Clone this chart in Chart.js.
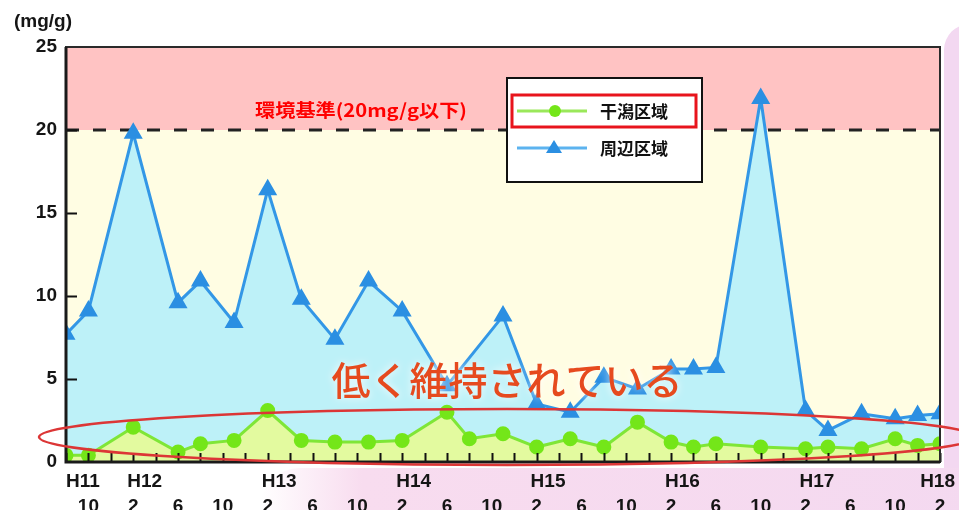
<!DOCTYPE html>
<html lang="ja">
<head>
<meta charset="utf-8">
<title>干潟区域・周辺区域の推移</title>
<script src="https://cdn.jsdelivr.net/npm/chart.js@4/dist/chart.umd.min.js"></script>
<style>
    body { margin: 0; background: #fff; overflow: hidden; }
    .wrap { position: relative; width: 959px; height: 510px; }
    .deco-right { position: absolute; left: 944px; top: 24px; width: 40px; height: 500px; background: #f3d8f1; border-top-left-radius: 26px; }
    .deco-bottom { position: absolute; left: 260px; top: 468px; width: 730px; height: 60px; background: linear-gradient(90deg, rgba(249,220,240,0) 0%, #f8dcef 14%, #f4d9f0 100%); border-top-left-radius: 40px; }
    canvas { position: absolute; left: 0; top: 0; }
</style>
</head>
<body>
<div class="wrap">
    <div class="deco-right"></div>
    <div class="deco-bottom"></div>
    <canvas id="chart" width="959" height="510"></canvas>
</div>
<script>
// 調査時期（和暦.月）と測定値 (mg/g)
const higataDates = ['H11.8', 'H11.10', 'H12.2', 'H12.6', 'H12.8', 'H12.11', 'H13.2', 'H13.5', 'H13.8', 'H13.11', 'H14.2', 'H14.6', 'H14.8', 'H14.11', 'H15.2', 'H15.5', 'H15.8', 'H15.11', 'H16.2', 'H16.4', 'H16.6', 'H16.10', 'H17.2', 'H17.4', 'H17.7', 'H17.10', 'H17.12', 'H18.2'];
const higataValues = [0.4, 0.4, 2.1, 0.6, 1.1, 1.3, 3.1, 1.3, 1.2, 1.2, 1.3, 3.0, 1.4, 1.7, 0.9, 1.4, 0.9, 2.4, 1.2, 0.9, 1.1, 0.9, 0.8, 0.9, 0.8, 1.4, 1.0, 1.1];

const shuhenDates = ['H11.8', 'H11.10', 'H12.2', 'H12.6', 'H12.8', 'H12.11', 'H13.2', 'H13.5', 'H13.8', 'H13.11', 'H14.2', 'H14.6', 'H14.11', 'H15.2', 'H15.5', 'H15.8', 'H15.11', 'H16.2', 'H16.4', 'H16.6', 'H16.10', 'H17.2', 'H17.4', 'H17.7', 'H17.10', 'H17.12', 'H18.2'];
const shuhenValues = [7.7, 9.1, 19.8, 9.6, 10.9, 8.4, 16.4, 9.8, 7.4, 10.9, 9.1, 4.6, 8.8, 3.5, 3.0, 5.1, 4.4, 5.6, 5.6, 5.7, 21.9, 3.1, 1.9, 2.9, 2.6, 2.8, 2.9];

const seriesNames = ['干潟区域', '周辺区域'];
const yearLabels = ['H11', 'H12', 'H13', 'H14', 'H15', 'H16', 'H17', 'H18'];
const labelMonths = [2, 6, 10];
const yTicks = [0, 5, 10, 15, 20, 25];
const standardValue = 20;
const standardLabel = '環境基準(20mg/g以下)';
const unitLabel = '(mg/g)';
const noteText = '低く維持されている';

const startDate = 'H11.8';
const endDate = 'H18.2';

// 'H12.2' -> H11年8月からの月数
function toMonthIndex(s) {
    const parts = s.slice(1).split('.').map(Number);
    return (parts[0] - 11) * 12 + (parts[1] - 8);
}
function monthOf(idx) {
    return ((idx + 7) % 12) + 1;
}
function toPoints(dates, values) {
    return dates.map((d, i) => ({ x: toMonthIndex(d), y: values[i] }));
}

const FONT = '"Liberation Sans", Arial, sans-serif';
const JP = '"Noto Sans CJK JP", sans-serif';

// 背景・基準線・枠・凡例・注記
const decor = {
    id: 'decor',
    beforeDatasetsDraw(chart) {
        const { ctx, chartArea: a, scales: { y } } = chart;
        const yStd = y.getPixelForValue(standardValue);
        ctx.save();
        ctx.fillStyle = '#ffc3c3';
        ctx.fillRect(a.left, a.top, a.right - a.left, yStd - a.top);
        ctx.fillStyle = '#fffde3';
        ctx.fillRect(a.left, yStd, a.right - a.left, a.bottom - yStd);

        ctx.strokeStyle = '#222';
        ctx.lineWidth = 3;
        ctx.setLineDash([13, 14]);
        ctx.beginPath();
        ctx.moveTo(a.left, yStd);
        ctx.lineTo(a.right, yStd);
        ctx.stroke();
        ctx.setLineDash([]);

        ctx.fillStyle = '#f00';
        ctx.font = 'bold 18px ' + JP;
        ctx.textAlign = 'center';
        ctx.textBaseline = 'middle';
        ctx.save();
        ctx.translate(361, yStd - 20);
        ctx.scale(1.12, 1);
        ctx.fillText(standardLabel, 0, 0);
        ctx.restore();
        ctx.restore();
    },
    afterDatasetsDraw(chart) {
        const { ctx, chartArea: a, scales: { x, y } } = chart;
        ctx.save();

        // 目盛り（内向き）
        ctx.strokeStyle = '#111';
        ctx.lineWidth = 2;
        ctx.beginPath();
        for (let m = toMonthIndex(startDate); m <= toMonthIndex(endDate); m += 2) {
            const px = Math.round(x.getPixelForValue(m)) + 0.5;
            ctx.moveTo(px, a.bottom);
            ctx.lineTo(px, a.bottom - 9);
        }
        yTicks.slice(1, -1).forEach(v => {
            const py = Math.round(y.getPixelForValue(v)) + 0.5;
            ctx.moveTo(a.left, py);
            ctx.lineTo(a.left + 11, py);
        });
        ctx.stroke();

        // 枠
        ctx.lineWidth = 2;
        ctx.strokeStyle = '#2a2a2a';
        ctx.strokeRect(a.left, a.top, a.right - a.left, a.bottom - a.top);
        ctx.lineWidth = 3;
        ctx.strokeStyle = '#1a1a1a';
        ctx.beginPath();
        ctx.moveTo(a.left, a.top);
        ctx.lineTo(a.left, a.bottom);
        ctx.lineTo(a.right, a.bottom);
        ctx.stroke();

        // 年ラベル
        ctx.fillStyle = '#151515';
        ctx.font = 'bold 19px ' + FONT;
        ctx.textAlign = 'left';
        ctx.textBaseline = 'middle';
        yearLabels.forEach(lab => {
            const w = ctx.measureText(lab).width;
            let left = x.getPixelForValue(toMonthIndex(lab + '.2')) - 6;
            left = Math.max(a.left, Math.min(left, chart.width - 4 - w));
            ctx.fillText(lab, left, a.bottom + 20);
        });

        // 単位
        ctx.font = 'bold 19px ' + FONT;
        ctx.fillText(unitLabel, 14, 22);

        // 凡例
        const lx = 507, ly = 78, lw = 195, lh = 104;
        ctx.fillStyle = '#fff';
        ctx.fillRect(lx, ly, lw, lh);
        ctx.lineWidth = 2;
        ctx.strokeStyle = '#111';
        ctx.strokeRect(lx, ly, lw, lh);
        ctx.lineWidth = 3;
        ctx.strokeStyle = '#e8141c';
        ctx.strokeRect(lx + 5, ly + 17, lw - 11, 32);

        chart.data.datasets.forEach((ds, i) => {
            const ry = ly + 33 + i * 37;
            ctx.strokeStyle = i === 0 ? '#9ae85a' : '#5cb3ef';
            ctx.lineWidth = 3;
            ctx.beginPath();
            ctx.moveTo(lx + 10, ry);
            ctx.lineTo(lx + 80, ry);
            ctx.stroke();
            ctx.fillStyle = ds.pointBackgroundColor;
            ctx.beginPath();
            if (ds.pointStyle === 'triangle') {
                ctx.moveTo(lx + 47, ry - 8);
                ctx.lineTo(lx + 55, ry + 5);
                ctx.lineTo(lx + 39, ry + 5);
                ctx.closePath();
            } else {
                ctx.arc(lx + 48, ry, 6, 0, Math.PI * 2);
            }
            ctx.fill();
            ctx.fillStyle = '#111';
            ctx.font = 'bold 17px ' + JP;
            ctx.textAlign = 'left';
            ctx.fillText(ds.label, lx + 93, ry + 1);
        });

        // 注記
        ctx.font = '500 39px ' + JP;
        ctx.textAlign = 'center';
        ctx.textBaseline = 'middle';
        ctx.shadowColor = 'rgba(255,255,255,0.95)';
        ctx.shadowBlur = 8;
        ctx.fillStyle = '#e64a1e';
        ctx.fillText(noteText, 507, 380);
        ctx.shadowBlur = 0;

        ctx.strokeStyle = '#dc3636';
        ctx.lineWidth = 2.5;
        ctx.beginPath();
        ctx.ellipse(507, 437, 468, 28, 0, 0, Math.PI * 2);
        ctx.stroke();
        ctx.restore();
    }
};

const config = {
    type: 'line',
    data: {
        datasets: [
            {
                label: seriesNames[0],
                data: toPoints(higataDates, higataValues),
                borderColor: '#7fe637',
                borderWidth: 3,
                backgroundColor: '#e3fa9f',
                fill: 'origin',
                pointStyle: 'circle',
                pointRadius: 6,
                pointBackgroundColor: '#74e619',
                pointBorderColor: '#74e619',
                tension: 0,
            },
            {
                label: seriesNames[1],
                data: toPoints(shuhenDates, shuhenValues),
                borderColor: '#3397e6',
                borderWidth: 3,
                backgroundColor: '#bdf1f8',
                fill: 'origin',
                pointStyle: 'triangle',
                pointRadius: 8,
                pointBackgroundColor: '#2b8fe2',
                pointBorderColor: '#2b8fe2',
                tension: 0,
            },
        ],
    },
    options: {
        responsive: false,
        animation: false,
        layout: { padding: { top: 47, right: 19, left: 0, bottom: 0 } },
        plugins: { legend: { display: false }, tooltip: { enabled: false } },
        scales: {
            x: {
                type: 'linear',
                min: toMonthIndex(startDate),
                max: toMonthIndex(endDate),
                afterFit: s => { s.height = 48; s.paddingLeft = 0; s.paddingRight = 0; },
                grid: { display: false, drawTicks: false },
                border: { display: false },
                ticks: {
                    stepSize: 2,
                    autoSkip: false,
                    maxRotation: 0,
                    padding: 33,
                    color: '#151515',
                    font: { family: FONT, size: 19, weight: 'bold' },
                    callback: v => labelMonths.includes(monthOf(v)) ? String(monthOf(v)) : '',
                },
            },
            y: {
                min: 0,
                max: 25,
                afterFit: s => { s.width = 66; s.paddingTop = 0; s.paddingBottom = 0; },
                afterBuildTicks: s => { s.ticks = yTicks.map(v => ({ value: v })); },
                grid: { display: false, drawTicks: false },
                border: { display: false },
                ticks: {
                    padding: 9,
                    color: '#151515',
                    font: { family: FONT, size: 19, weight: 'bold' },
                },
            },
        },
    },
    plugins: [decor],
};

new Chart(document.getElementById('chart').getContext('2d'), config);
</script>
</body>
</html>
